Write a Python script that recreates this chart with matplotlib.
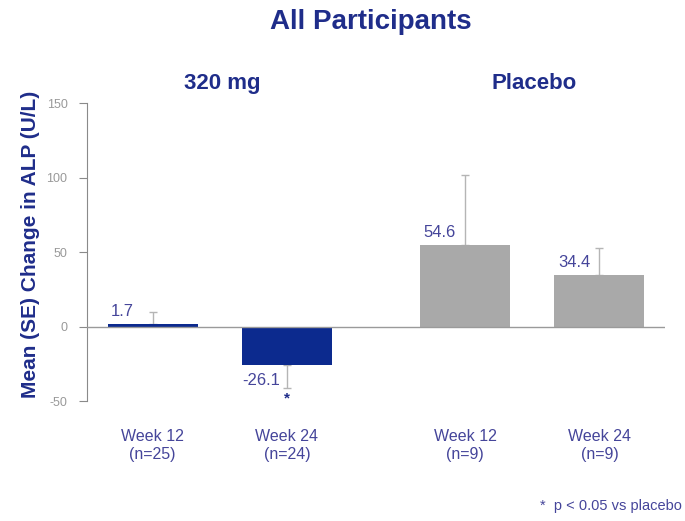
import matplotlib.pyplot as plt
import numpy as np

plt.rcParams['font.family'] = ['Liberation Sans', 'DejaVu Sans']
plt.rcParams['axes.unicode_minus'] = False

# data
groups = ["320 mg", "Placebo"]
labels = ["Week 12\n(n=25)", "Week 24\n(n=24)", "Week 12\n(n=9)", "Week 24\n(n=9)"]
means = [1.7, -26.1, 54.6, 34.4]
se = [8.3, 15.5, 47.4, 18.6]
positions = [0, 1, 2.33, 3.33]
colors = ["#0c2a8e", "#0c2a8e", "#a9a9a9", "#a9a9a9"]

navy = "#1f2d8a"
txt = "#45459a"

fig = plt.figure(figsize=(6.85, 5.21), dpi=100)
ax = fig.add_axes([0.127, 0.2303, 0.844, 0.572])

for x, m, s, c in zip(positions, means, se, colors):
    ax.bar(x, m, width=0.67, color=c, zorder=2)
    # one-sided error bar, away from zero
    if m >= 0:
        ax.errorbar(x, m, yerr=[[0], [s]], fmt="none", ecolor="#b5b5b5",
                    elinewidth=1, capsize=3, zorder=1)
    else:
        ax.errorbar(x, m, yerr=[[s], [0]], fmt="none", ecolor="#b5b5b5",
                    elinewidth=1, capsize=3, zorder=1)

# value labels
for x, m in zip(positions, means):
    if m >= 0:
        ax.text(x - 0.31, m + 3.5, f"{m:.1f}", ha="left", va="bottom",
                fontsize=12, color=txt)
    else:
        ax.text(x - 0.33, m - 5, f"{m:.1f}", ha="left", va="top",
                fontsize=12, color=txt)

# significance marker
ax.text(positions[1], means[1] - se[1] - 2, "*", ha="center", va="top",
        fontsize=11, fontweight="bold", color=navy)

ax.axhline(0, color="#9a9a9a", linewidth=1, zorder=3)

ax.set_xlim(-0.49, 3.82)
ax.set_ylim(-50, 150)
ax.set_yticks([-50, 0, 50, 100, 150])
ax.tick_params(axis="y", direction="out", length=6, color="#8a8a8a",
               labelsize=9, labelcolor="#999999", pad=8)
ax.set_xticks(positions)
ax.set_xticklabels(labels, fontsize=11.5, color=txt, linespacing=1.3)
ax.tick_params(axis="x", length=0, pad=20)

for sp in ["top", "right", "bottom"]:
    ax.spines[sp].set_visible(False)
ax.spines["left"].set_color("#8a8a8a")

ax.set_ylabel("Mean (SE) Change in ALP (U/L)", fontsize=15, fontweight="bold",
              color=navy)
ax.yaxis.set_label_coords(-0.081, 0.527)

fig.text(0.541, 0.958, "All Participants", ha="center", va="center",
         fontsize=20, fontweight="bold", color=navy)
fig.text(0.324, 0.839, groups[0], ha="center", va="center",
         fontsize=16, fontweight="bold", color=navy)
fig.text(0.78, 0.839, groups[1], ha="center", va="center",
         fontsize=16, fontweight="bold", color=navy)
fig.text(0.996, 0.028, "*  p < 0.05 vs placebo", ha="right", va="center",
         fontsize=10.5, color=txt)

fig.savefig("out.png", dpi=100)
